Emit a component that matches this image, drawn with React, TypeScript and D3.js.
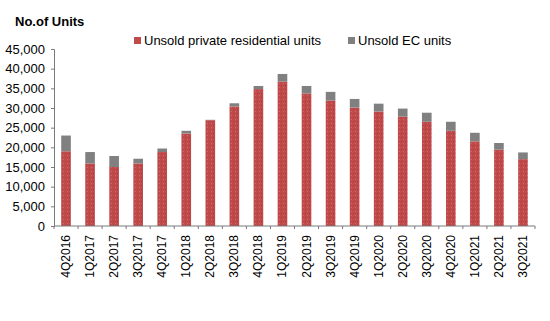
import * as d3 from 'd3';
import { useEffect, useRef } from 'react';

const quarters = [
  '4Q2016', '1Q2017', '2Q2017', '3Q2017', '4Q2017', '1Q2018', '2Q2018',
  '3Q2018', '4Q2018', '1Q2019', '2Q2019', '3Q2019', '4Q2019', '1Q2020',
  '2Q2020', '3Q2020', '4Q2020', '1Q2021', '2Q2021', '3Q2021',
];
const privateUnits = [
  19000, 15900, 15000, 15900, 18800, 23500, 26900, 30400, 34800, 36700,
  33700, 31900, 30100, 29100, 27800, 26500, 24200, 21500, 19400, 17000,
];
const ecUnits = [
  4000, 2900, 2800, 1200, 900, 700, 100, 800, 800, 1950,
  1900, 2200, 2200, 2000, 2050, 2300, 2300, 2200, 1700, 1700,
];
const yTicks = [0, 5000, 10000, 15000, 20000, 25000, 30000, 35000, 40000, 45000];
const seriesNames = ['Unsold private residential units', 'Unsold EC units'];

const W = 550;
const H = 321;
const RED = '#c0494a';
const GREY = '#808080';
const FONT = 'Arial, "Liberation Sans", sans-serif';

export default function App() {
  const ref = useRef<SVGSVGElement>(null);

  useEffect(() => {
    const svg = d3.select(ref.current);
    svg.selectAll('*').remove();

    const margin = { top: 49, right: 15, bottom: 95, left: 54 };

    // faint stipple on the red bars
    const defs = svg.append('defs');
    const pat = defs
      .append('pattern')
      .attr('id', 'stipple')
      .attr('patternUnits', 'userSpaceOnUse')
      .attr('width', 4)
      .attr('height', 4);
    pat.append('rect').attr('width', 4).attr('height', 4).attr('fill', RED);
    pat.append('rect').attr('x', 1).attr('y', 1).attr('width', 1).attr('height', 1).attr('fill', '#a83c3e');
    pat.append('rect').attr('x', 3).attr('y', 3).attr('width', 1).attr('height', 1).attr('fill', '#cf6a69');

    const x = d3
      .scaleBand()
      .domain(quarters)
      .range([margin.left, W - margin.right])
      .paddingInner(0.6)
      .paddingOuter(0.3);

    const y = d3
      .scaleLinear()
      .domain([0, 45000])
      .range([H - margin.bottom, margin.top]);

    const rows = quarters.map((q, i) => ({ q, priv: privateUnits[i], ec: ecUnits[i] }));
    const stacked = d3.stack<any>().keys(['priv', 'ec'])(rows);
    const fills = ['url(#stipple)', GREY];

    stacked.forEach((layer, li) => {
      svg
        .append('g')
        .selectAll('rect')
        .data(layer)
        .enter()
        .append('rect')
        .attr('x', (d) => x(d.data.q)!)
        .attr('y', (d) => y(d[1]))
        .attr('width', x.bandwidth())
        .attr('height', (d) => y(d[0]) - y(d[1]))
        .attr('fill', fills[li]);
    });

    // y axis
    const yAxis = svg
      .append('g')
      .attr('transform', `translate(${margin.left},0)`)
      .call(d3.axisLeft(y).tickValues(yTicks).tickSize(3).tickFormat(d3.format(',')));
    yAxis.selectAll('path, line').attr('stroke', '#7a7a7a');
    yAxis
      .selectAll('text')
      .attr('x', -9)
      .style('font-size', '13px')
      .style('font-family', FONT)
      .attr('fill', '#000');

    // x axis with ticks between the bars
    const xAxis = svg.append('g').attr('transform', `translate(0,${H - margin.bottom})`);
    xAxis
      .append('line')
      .attr('x1', margin.left)
      .attr('x2', W - margin.right)
      .attr('stroke', '#7a7a7a');
    const step = x.step();
    const edges = d3.range(quarters.length + 1).map((i) => margin.left + i * step);
    xAxis
      .selectAll('.tk')
      .data(edges)
      .enter()
      .append('line')
      .attr('x1', (d) => d)
      .attr('x2', (d) => d)
      .attr('y1', 0)
      .attr('y2', 3)
      .attr('stroke', '#7a7a7a');
    xAxis
      .selectAll('.lbl')
      .data(quarters)
      .enter()
      .append('text')
      .attr('transform', (d) => `translate(${x(d)! + x.bandwidth() / 2 + 4},9) rotate(-90)`)
      .attr('text-anchor', 'end')
      .style('font-size', '12px')
      .style('font-family', FONT)
      .text((d) => d);

    // unit title
    svg
      .append('text')
      .attr('x', 15)
      .attr('y', 26)
      .style('font-size', '13px')
      .style('font-weight', 'bold')
      .style('font-family', FONT)
      .text('No.of Units');

    // legend
    const legendX = [134, 348];
    seriesNames.forEach((name, i) => {
      const g = svg.append('g').attr('transform', `translate(${legendX[i]},45)`);
      g.append('rect').attr('x', 0).attr('y', -8).attr('width', 7).attr('height', 7).attr('fill', i === 0 ? RED : GREY);
      g.append('text')
        .attr('x', 10)
        .attr('y', 0)
        .style('font-size', '13px')
        .style('font-family', FONT)
        .text(name);
    });
  }, []);

  return (
    <svg
      ref={ref}
      width={W}
      height={H}
      style={{ position: 'absolute', left: 0, top: 0, background: '#fff' }}
    />
  );
}
